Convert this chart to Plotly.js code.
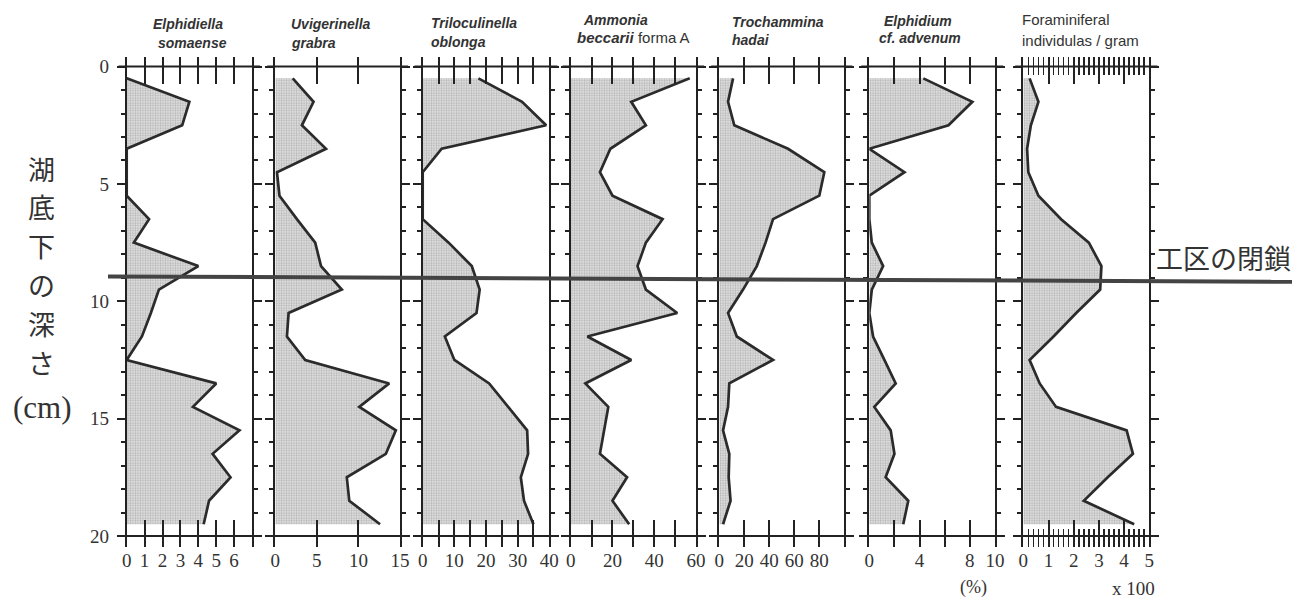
<!DOCTYPE html>
<html><head><meta charset="utf-8">
<script src="https://cdn.plot.ly/plotly-3.0.1.min.js"></script>
<style>html,body{margin:0;padding:0;background:#fff}</style>
</head><body><div id="chart" style="width:1292px;height:598px"></div>
<script>
// depth of each sample (cm below lake floor)
const depth = [0.5,1.5,2.5,3.5,4.5,5.5,6.5,7.5,8.5,9.5,10.5,11.5,12.5,13.5,14.5,15.5,16.5,17.5,18.5,19.5];
// series values (%), last panel in individuals/gram x100
const elphidiella   = [0,3.5,3.1,0,0,0,1.25,0.4,4.0,1.8,1.35,0.85,0,5.0,3.7,6.3,4.8,5.8,4.6,4.3];
const uvigerinella  = [2.1,4.6,3.2,6.1,0.2,0.5,2.6,4.8,5.5,8.0,1.6,1.4,3.6,13.7,10.1,14.5,13.3,8.6,8.9,12.6];
const triloculinella= [17.6,31.4,39,6,0,0,0,8.2,15.5,18,17,7,10,21,27,33,33.3,31,32,35];
const ammonia       = [57,29,36,19,14,20,44,36,32,36,51,8,29,7,18,16,14,27,20,28];
const trochammina   = [11,7,12,55,84,80,43,37,30,19,7,14,43,8,7,3,8,7.5,9,3];
const elphidium     = [4.3,8.2,6.3,0,2.8,0,0,0.2,1.1,0.2,0,0.3,1.2,2.1,0.4,1.7,2.0,1.3,3.1,2.7];
const foraminifera  = [0.25,0.6,0.3,0.15,0.2,0.6,1.5,2.6,3.1,3.05,2.1,1.2,0.25,0.65,1.3,4.1,4.35,3.35,2.4,4.4];

const series = [elphidiella, uvigerinella, triloculinella, ammonia, trochammina, elphidium, foraminifera];

// axis ranges and tick labels
const xMax = [7, 15, 40, 60, 100, 10, 5];
const tickVals = [
  [0,1,2,3,4,5,6],
  [0,5,10,15],
  [0,5,10,15,20,25,30,35,40],
  [0,10,20,30,40,50,60],
  [0,20,40,60,80],
  [0,2,4,6,8,10],
  [0,1,2,3,4,5]
];
const tickText = [
  ['0','1','2','3','4','5','6'],
  ['0','5','10','15'],
  ['0','','10','','20','','30','','40'],
  ['0','','20','','40','','60'],
  ['0','20','40','60','80'],
  ['0','','4','','8','10'],
  ['0','1','2','3','4','5']
];
const depthTicks = [0,5,10,15,20];

// titles
const titleLine1 = ['Elphidiella','Uvigerinella','Triloculinella','Ammonia','Trochammina','Elphidium','Foraminiferal'];
const titleLine2 = ['somaense','grabra','oblonga','beccarii','hadai','cf. advenum','individulas / gram'];
const titleSuffix2 = ['','','',' forma A','','',''];
const yLabelChars = ['湖','底','下','の','深','さ'];

// ---------- layout geometry (pixels) ----------
const W = 1292, H = 598;
const panelPx = [[126.7,252],[275.3,400],[422.7,549.3],[570.7,696],[719.3,844.3],[869.3,995],[1023.3,1149.3]];
const yDom = [1-547/H, 1-57/H];
const yRange = [20.47, -0.41];
const t1x = [151,289,429,581,730,882,1020];
const t2x = [156,289,429,575,730,877,1020];
const t1y = [24,24,23,20,22,21,20];
const t2y = [43,43,42,38,40,38,41];

const lineCol = '#2b2b2b';
const data = [];
const layout = {
  width: W, height: H,
  margin: {l:0,r:0,t:0,b:0},
  paper_bgcolor: '#fff', plot_bgcolor: 'rgba(0,0,0,0)',
  showlegend: false,
  font: {family: 'Liberation Serif, serif', color: '#333'},
  shapes: [], annotations: []
};

series.forEach((vals, i) => {
  const n = i === 0 ? '' : String(i+1);
  data.push({
    type: 'scatter', mode: 'lines',
    x: vals, y: depth,
    xaxis: 'x'+n, yaxis: 'y'+n,
    fill: 'tozerox',
    fillcolor: '#dcdcdc',
    fillpattern: {shape: '.', fgcolor: '#b4b4b4', bgcolor: '#e4e4e4', size: 2.5, solidity: 0.45},
    line: {color: lineCol, width: 2.7},
    hoverinfo: 'x+y'
  });
  const xa = {
    domain: [panelPx[i][0]/W, panelPx[i][1]/W],
    range: [0, xMax[i]],
    anchor: 'y'+n,
    showgrid: false, zeroline: false, showline: false,
    ticks: 'inside', ticklen: 27, tickwidth: 2, tickcolor: '#222',
    mirror: 'ticks',
    tickmode: 'array', tickvals: tickVals[i], ticktext: tickText[i],
    tickfont: {family: 'Liberation Serif, serif', size: 19, color: '#333'},
    automargin: false, fixedrange: true
  };
  if (i === 6) {
    xa.minor = {dtick: 0.2, tick0: 0, ticks: 'inside', ticklen: 18, tickwidth: 1.6, tickcolor: '#222'};
  }
  const ya = {
    domain: yDom,
    range: yRange,
    anchor: 'x'+n,
    showgrid: false, zeroline: false,
    showline: true, linewidth: 2, linecolor: '#222',
    mirror: 'ticks',
    ticks: 'outside', ticklen: 8, tickwidth: 2, tickcolor: '#222',
    tickmode: 'array', tickvals: depthTicks,
    minor: {dtick: 1, tick0: 0, ticks: 'outside', ticklen: 4, tickwidth: 2, tickcolor: '#222'},
    showticklabels: i === 0,
    tickfont: {family: 'Liberation Serif, serif', size: 19, color: '#333'},
    ticklabelstandoff: 4,
    automargin: false, fixedrange: true
  };
  layout['xaxis'+n] = xa;
  layout['yaxis'+n] = ya;
  // horizontal frame lines at depth 0 and 20, slightly longer than the panel
  [0, 20].forEach(d => layout.shapes.push({
    type: 'line', xref: 'x'+n+' domain', yref: 'y'+n,
    x0: -0.065, x1: 1.065, y0: d, y1: d,
    line: {color: '#222', width: 2}
  }));
  // titles
  const l1 = i === 6 ? titleLine1[i] : '<b><i>'+titleLine1[i]+'</i></b>';
  const l2 = i === 6 ? titleLine2[i] : '<b><i>'+titleLine2[i]+'</i></b>'+titleSuffix2[i];
  const fs = i === 6 ? 15 : 14;
  layout.annotations.push({
    text: l1, xref: 'paper', yref: 'paper', x: t1x[i]/W, y: 1-t1y[i]/H,
    xanchor: 'left', yanchor: 'middle', showarrow: false,
    font: {family: 'Liberation Sans, Arial, sans-serif', size: fs, color: '#333'}
  });
  layout.annotations.push({
    text: l2, xref: 'paper', yref: 'paper', x: t2x[i]/W, y: 1-t2y[i]/H,
    xanchor: 'left', yanchor: 'middle', showarrow: false,
    font: {family: 'Liberation Sans, Arial, sans-serif', size: i===3 ? 15 : fs, color: '#333'}
  });
});

// horizontal bar marking closure of the works area
layout.shapes.push({
  type: 'line', xref: 'paper', yref: 'y',
  x0: 108/W, x1: 1, y0: 8.94, y1: 9.17,
  line: {color: '#444', width: 4}
});

// vertical Japanese y-axis label, one character per annotation
yLabelChars.forEach((c, k) => layout.annotations.push({
  text: c, xref: 'paper', yref: 'paper', x: 41/W, y: 1-(168+k*38.8)/H,
  xanchor: 'center', yanchor: 'middle', showarrow: false,
  font: {family: 'Noto Sans CJK JP', size: 27, color: '#333'}
}));
layout.annotations.push({
  text: '(cm)', xref: 'paper', yref: 'paper', x: 42/W, y: 1-407/H,
  xanchor: 'center', yanchor: 'middle', showarrow: false,
  font: {family: 'Liberation Serif, serif', size: 31, color: '#333'}
});
layout.annotations.push({
  text: '工区の閉鎖', xref: 'paper', yref: 'paper', x: 1154/W, y: 1-258/H,
  xanchor: 'left', yanchor: 'middle', showarrow: false,
  font: {family: 'Noto Sans CJK JP', size: 27, color: '#333'}
});
layout.annotations.push({
  text: '(%)', xref: 'paper', yref: 'paper', x: 973/W, y: 1-587/H,
  xanchor: 'center', yanchor: 'middle', showarrow: false,
  font: {family: 'Liberation Serif, serif', size: 18, color: '#333'}
});
layout.annotations.push({
  text: 'x 100', xref: 'paper', yref: 'paper', x: 1133/W, y: 1-588/H,
  xanchor: 'center', yanchor: 'middle', showarrow: false,
  font: {family: 'Liberation Serif, serif', size: 19, color: '#333'}
});

Plotly.newPlot('chart', data, layout, {staticPlot: true, displayModeBar: false});
</script>
</body></html>
